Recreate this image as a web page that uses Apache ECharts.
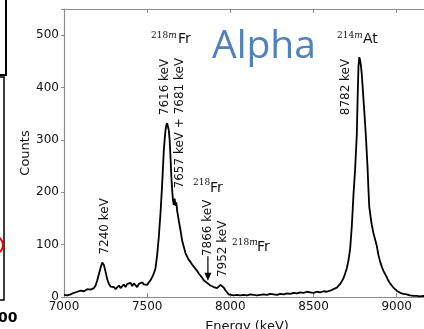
<!DOCTYPE html>
<html>
<head>
<meta charset="utf-8">
<script src="https://cdn.jsdelivr.net/npm/echarts@6/dist/echarts.min.js"></script>
<style>
  html, body { margin: 0; padding: 0; background: #fff; overflow: hidden; }
  #chart { width: 440px; height: 329px; }
</style>
</head>
<body>
<div id="chart"></div>
<script>
// spectrum
const energy = [
  7000, 7010, 7020, 7030, 7040, 7050, 7060, 7070, 7080, 7090, 7100, 7110, 7120, 7130, 7140, 7150,
  7160, 7170, 7180, 7190, 7200, 7210, 7220, 7230, 7240, 7250, 7260, 7270, 7280, 7290, 7300, 7310,
  7320, 7330, 7340, 7350, 7360, 7370, 7380, 7390, 7400, 7410, 7420, 7430, 7440, 7450, 7460, 7470,
  7480, 7490, 7500, 7510, 7520, 7530, 7540, 7550, 7560, 7570, 7580, 7590, 7600, 7605, 7610, 7615,
  7620, 7625, 7630, 7635, 7640, 7645, 7650, 7655, 7660, 7665, 7670, 7675, 7680, 7690, 7700, 7710,
  7720, 7730, 7740, 7750, 7760, 7770, 7780, 7790, 7800, 7810, 7820, 7830, 7840, 7850, 7860, 7870,
  7880, 7890, 7900, 7910, 7920, 7930, 7940, 7950, 7960, 7970, 7980, 7990, 8000, 8020, 8040, 8060,
  8080, 8100, 8120, 8140, 8160, 8180, 8200, 8220, 8240, 8260, 8280, 8300, 8320, 8340, 8360, 8380,
  8400, 8420, 8440, 8460, 8480, 8500, 8520, 8540, 8560, 8580, 8600, 8620, 8640, 8660, 8670, 8680,
  8690, 8700, 8710, 8720, 8730, 8740, 8750, 8760, 8765, 8770, 8775, 8780, 8785, 8790, 8795, 8800,
  8805, 8810, 8815, 8820, 8825, 8830, 8835, 8840, 8845, 8850, 8860, 8870, 8880, 8890, 8900, 8910,
  8920, 8930, 8940, 8950, 8960, 8970, 8980, 8990, 9000, 9010, 9020, 9040, 9060, 9080, 9100, 9120,
  9140, 9160, 9180, 9200
];
const counts = [
  4, 5, 3, 6, 5, 7, 8, 6, 10, 9, 12, 14, 11, 13, 15, 12,
  14, 13, 17, 22, 32, 44, 56, 66, 61, 48, 34, 25, 20, 17, 19, 15,
  18, 22, 17, 20, 24, 19, 25, 22, 27, 21, 26, 24, 19, 25, 22, 28,
  24, 27, 23, 28, 32, 38, 45, 55, 80, 115, 160, 215, 280, 300, 318, 328,
  332, 325, 318, 300, 268, 232, 205, 185, 176, 188, 174, 181, 165, 146, 128, 108,
  96, 84, 77, 71, 67, 62, 58, 54, 50, 45, 41, 37, 32, 29, 27, 24,
  22, 21, 19, 18, 17, 19, 23, 24, 18, 13, 9, 5, 4, 3, 4, 3,
  4, 3, 5, 4, 3, 4, 5, 4, 6, 5, 4, 6, 5, 7, 6, 8,
  7, 9, 8, 10, 9, 8, 10, 9, 11, 10, 12, 15, 18, 25, 30, 36,
  45, 55, 70, 92, 135, 195, 245, 310, 380, 440, 458, 452, 442, 425, 402, 378,
  355, 330, 305, 275, 245, 205, 172, 160, 148, 138, 122, 110, 98, 80, 68, 58,
  50, 44, 38, 31, 26, 22, 18, 15, 12, 10, 8, 6, 5, 3, 2, 2,
  1, 2, 1, 1
];

// peak labels (rotated) and where they sit, in data units
const peakLabels = ['7240 keV', '7616 keV', '7657 keV + 7681 keV', '7866 keV', '7952 keV', '8782 keV'];
const peakLabelAt = [[7246, 135], [7607, 401], [7697, 332], [7865, 132], [7955, 92], [8695, 401]];

// nuclide tags
const nuclideMass = ['218', '218', '218', '214'];
const nuclideMeta = ['m', '', 'm', 'm'];
const nuclideSymbol = ['Fr', 'Fr', 'Fr', 'At'];
const massAt = [[7523, 500], [7775, 218], [8010, 103], [8641, 500]];
const symbolAt = [[7685, 492], [7877, 208], [8160, 94], [8797, 492]];

const gray = '#8c8c8c';
const ink = '#111';

const chart = echarts.init(document.getElementById('chart'));

chart.setOption({
  animation: false,
  grid: { left: 64, right: 10, top: 9, bottom: 32, outerBoundsMode: 'none', containLabel: false },
  xAxis: [
    {
      type: 'value',
      min: 7000,
      max: 9200,
      interval: 500,
      name: 'Energy (keV)',
      nameLocation: 'middle',
      nameGap: 23,
      nameMoveOverlap: false,
      nameTextStyle: { fontFamily: 'DejaVu Sans', fontSize: 13, color: ink },
      axisLine: { lineStyle: { color: gray, width: 1.2 } },
      axisTick: { inside: true, length: 4, lineStyle: { color: gray } },
      axisLabel: {
        fontFamily: 'DejaVu Sans', fontSize: 12, color: ink, margin: 4,
        formatter: (v) => (v % 500 === 0 ? String(v) : ''),
      },
      splitLine: { show: false },
    },
    {
      type: 'value',
      position: 'top',
      min: 7000,
      max: 9200,
      interval: 500,
      axisLine: { lineStyle: { color: gray, width: 1.2 } },
      axisTick: { inside: true, length: 4, lineStyle: { color: gray } },
      axisLabel: { show: false },
      splitLine: { show: false },
    },
  ],
  yAxis: {
    type: 'value',
    min: 0,
    max: 550,
    interval: 100,
    name: 'Counts',
    nameLocation: 'middle',
    nameGap: 32,
    nameMoveOverlap: false,
    nameTextStyle: { fontFamily: 'DejaVu Sans', fontSize: 13, color: ink },
    axisLine: { show: true, lineStyle: { color: gray, width: 1.2 } },
    axisTick: { show: true, length: 3, lineStyle: { color: gray } },
    axisLabel: {
      fontFamily: 'DejaVu Sans', fontSize: 12, color: ink, margin: 5,
      formatter: (v) => (v % 100 === 0 ? String(v) : ''),
    },
    splitLine: { show: false },
  },
  series: [
    {
      type: 'line',
      xAxisIndex: 0,
      data: energy.map((e, i) => [e, counts[i]]),
      showSymbol: false,
      lineStyle: { color: '#000', width: 1.8 },
    },
  ],
});

const px = (pt) => chart.convertToPixel({ seriesIndex: 0 }, pt);

const graphics = [];

peakLabels.forEach((t, i) => {
  const p = px(peakLabelAt[i]);
  graphics.push({
    type: 'text', x: p[0], y: p[1], rotation: Math.PI / 2,
    style: { text: t, font: '12px "DejaVu Sans"', fill: ink, textAlign: 'center', textVerticalAlign: 'middle' },
  });
});

nuclideMass.forEach((m, i) => {
  const a = px(massAt[i]);
  const b = px(symbolAt[i]);
  graphics.push({
    type: 'text', x: a[0], y: a[1],
    style: {
      text: '{n|' + m + '}' + (nuclideMeta[i] ? '{i|' + nuclideMeta[i] + '}' : ''),
      fill: ink, textAlign: 'left', textVerticalAlign: 'middle',
      rich: {
        n: { fontFamily: 'DejaVu Serif', fontSize: 9, fill: ink },
        i: { fontFamily: 'DejaVu Serif', fontStyle: 'italic', fontSize: 9, fill: ink },
      },
    },
  });
  graphics.push({
    type: 'text', x: b[0], y: b[1],
    style: { text: nuclideSymbol[i], font: '14px "DejaVu Sans"', fill: ink, textAlign: 'left', textVerticalAlign: 'middle' },
  });
});

// arrow under the 7866 keV label
const aTop = px([7865, 78]);
const aTip = px([7865, 31]);
graphics.push({
  type: 'line',
  shape: { x1: aTop[0], y1: aTop[1], x2: aTip[0], y2: aTip[1] - 5 },
  style: { stroke: '#000', lineWidth: 1.2 },
});
graphics.push({
  type: 'polygon',
  shape: { points: [[aTip[0] - 3.5, aTip[1] - 8], [aTip[0] + 3.5, aTip[1] - 8], [aTip[0], aTip[1]]] },
  style: { fill: '#000' },
});

// slide title
graphics.push({
  type: 'text', x: 212, y: 47,
  style: { text: 'Alpha', font: '39px "Open Sans"', fill: '#4F81BD', textAlign: 'left', textVerticalAlign: 'middle' },
});

// bits of the neighbouring panel on the left edge
graphics.push({
  type: 'rect', shape: { x: -10, y: -10, width: 16, height: 85 },
  style: { fill: 'none', stroke: '#000', lineWidth: 2 },
});
graphics.push({
  type: 'rect', shape: { x: -10, y: 77, width: 14, height: 223 },
  style: { fill: 'none', stroke: '#000', lineWidth: 1.5 },
});
graphics.push({
  type: 'arc', shape: { cx: -6, cy: 245, r: 9, startAngle: -Math.PI / 2, endAngle: Math.PI / 2 },
  style: { fill: 'none', stroke: '#e00', lineWidth: 2 },
});
graphics.push({
  type: 'text', x: -2, y: 318,
  style: { text: '00', font: 'bold 14px "DejaVu Sans"', fill: '#000', textAlign: 'left', textVerticalAlign: 'middle' },
});

chart.setOption({ graphic: graphics });
</script>
</body>
</html>
